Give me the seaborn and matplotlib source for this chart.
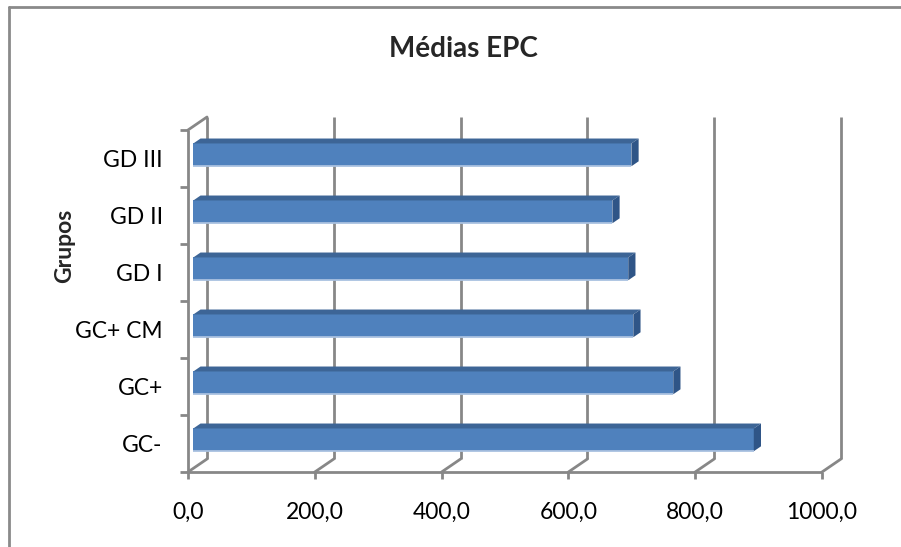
import matplotlib
matplotlib.use("Agg")
import matplotlib.pyplot as plt
import seaborn as sns
import numpy as np
from matplotlib.patches import Polygon
from matplotlib.lines import Line2D

# data
grupos = ['GD III', 'GD II', 'GD I', 'GC+ CM', 'GC+', 'GC-']
medias = [691, 661, 686, 694, 757, 884]
x_ticks = [0, 200, 400, 600, 800, 1000]
x_labels = ['0,0', '200,0', '400,0', '600,0', '800,0', '1000,0']

sns.set_style("white")
plt.rcParams['font.family'] = ['Lato', 'DejaVu Sans']

W, H = 901, 547
fig = plt.figure(figsize=(W / 100, H / 100), dpi=100)

# pixel layout of the 3D box (front plane)
px_x0 = 188          # value 0 on the front axis
px_per_unit = 0.634  # pixels per value unit
px_top = 130         # top of category band (front)
px_per_cat = 57
xmin, xmax = -30, 1050
ymin, ymax = 5.7, -0.9   # inverted categorical axis

left = px_x0 + xmin * px_per_unit
right = px_x0 + xmax * px_per_unit
top = px_top + (ymax + 0.5) * px_per_cat
bottom = px_top + (ymin + 0.5) * px_per_cat
ax = fig.add_axes([left / W, 1 - bottom / H, (right - left) / W, (bottom - top) / H])

# depth offsets (back wall) in data units
DX = 19 / px_per_unit
DY = -13 / px_per_cat
D0, D1 = 0.28, 0.66

grid_c = '#878787'
front_c = '#4F81BD'
top_c = '#3D6596'
side_c = '#2F5587'

# back wall gridlines, floor diagonals and tick marks
for t in x_ticks:
    ax.plot([t + DX, t + DX], [5.5 + DY, -0.5 + DY], color=grid_c, lw=2.0, zorder=1,
            solid_capstyle='butt')
    ax.plot([t, t + DX], [5.5, 5.5 + DY], color=grid_c, lw=2.0, zorder=1)
    ax.plot([t, t], [5.5, 5.5 + 7 / px_per_cat], color=grid_c, lw=2.0, zorder=1,
            clip_on=False, solid_capstyle='butt')

ax.plot([0, 1000], [5.5, 5.5], color=grid_c, lw=2.0, zorder=1, solid_capstyle='butt')
ax.plot([0, 0], [5.5, -0.5], color=grid_c, lw=2.0, zorder=1, solid_capstyle='butt')
ax.plot([0, DX], [-0.5, -0.5 + DY], color=grid_c, lw=2.0, zorder=1)
for k in range(len(grupos) + 1):
    e = k - 0.5
    ax.plot([0, -8 / px_per_unit], [e, e], color=grid_c, lw=2.0, zorder=1,
            clip_on=False, solid_capstyle='butt')

# bars (front faces) via seaborn, then shifted into depth
sns.barplot(x=medias, y=grupos, order=grupos, orient='h', width=0.4,
            color=front_c, saturation=1, edgecolor='none', linewidth=0, ax=ax, zorder=3)

dd = D1 - D0
for p in ax.patches:
    w, h = p.get_width(), p.get_height()
    xa = p.get_x() + D0 * DX
    ya = p.get_y() + D0 * DY
    p.set_x(xa)
    p.set_y(ya)
    p.set_zorder(3)
    top_face = Polygon([(xa, ya), (xa + w, ya), (xa + w + dd * DX, ya + dd * DY),
                        (xa + dd * DX, ya + dd * DY)], closed=True,
                       facecolor=top_c, edgecolor='none', zorder=3)
    side_face = Polygon([(xa + w, ya), (xa + w, ya + h), (xa + w + dd * DX, ya + h + dd * DY),
                         (xa + w + dd * DX, ya + dd * DY)], closed=True,
                        facecolor=side_c, edgecolor='none', zorder=3)
    ax.add_patch(top_face)
    ax.add_patch(side_face)
    ax.plot([xa, xa + w], [ya + h, ya + h], color='#A9C1E0', lw=1.3, zorder=4,
            solid_capstyle='butt')

ax.set_xlim(xmin, xmax)
ax.set_ylim(ymin, ymax)
ax.set_xticks(x_ticks, x_labels)
ax.set_yticks(range(len(grupos)), grupos)
ax.tick_params(axis='x', length=0, pad=13, labelsize=16.5, colors='black')
ax.tick_params(axis='y', length=0, pad=4.5, labelsize=16.5, colors='black')
ax.set_xlabel('')
ax.set_ylabel('')
for s in ax.spines.values():
    s.set_visible(False)
ax.patch.set_alpha(0)
ax.grid(False)

fig.text(463 / W, 1 - 49 / H, 'Médias EPC', ha='center', va='center',
         fontsize=20, fontweight='bold')
fig.text(65 / W, 1 - 246 / H, 'Grupos', ha='center', va='center', rotation=90,
         fontsize=16.5, fontweight='bold')

# chart area border
fig.add_artist(Line2D([9 / W, 9 / W], [0, 1 - 7 / H], color='#8A8A8A', lw=2,
                      transform=fig.transFigure))
fig.add_artist(Line2D([9 / W, 1], [1 - 7 / H, 1 - 7 / H], color='#8A8A8A', lw=2,
                      transform=fig.transFigure))

fig.savefig('out.png', dpi=100)
